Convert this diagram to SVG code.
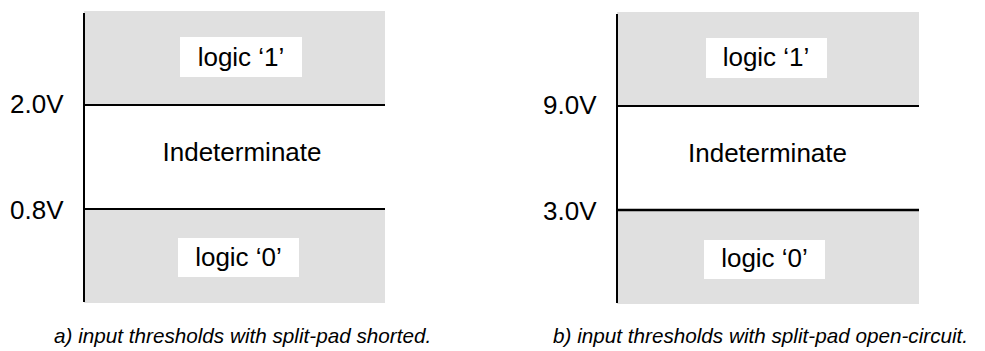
<svg xmlns="http://www.w3.org/2000/svg" width="985" height="351" viewBox="0 0 985 351">
<style>
.zone{fill:#e0e0e0;stroke:none}
.box{fill:#ffffff;stroke:none}
.ln{stroke:#000000;stroke-width:2;fill:none}
.t{font-family:"Liberation Sans",Arial,sans-serif;font-size:26px;fill:#000000}
.m{text-anchor:middle}
.cap{font-family:"Liberation Sans",Arial,sans-serif;font-size:20.7px;font-style:italic;fill:#000000}
</style>
<rect width="985" height="351" fill="#ffffff"/>
<g id="panel-a">
  <g id="a-logic1">
    <rect class="zone" x="84" y="11" width="301" height="94"/>
    <rect class="box" x="180" y="37" width="122" height="40"/>
    <text class="t m" x="241" y="66">logic ‘1’</text>
  </g>
  <g id="a-indeterminate">
    <text class="t m" x="242" y="161">Indeterminate</text>
  </g>
  <g id="a-logic0">
    <rect class="zone" x="84" y="209" width="301" height="94"/>
    <rect class="box" x="178" y="238" width="121" height="39"/>
    <text class="t m" x="238.5" y="266">logic ‘0’</text>
  </g>
  <text class="t" x="10" y="113">2.0V</text>
  <text class="t" x="10" y="219">0.8V</text>
  <text class="cap" x="54" y="343">a) input thresholds with split-pad shorted.</text>
</g>
<g id="panel-b">
  <g id="b-logic1">
    <rect class="zone" x="617" y="12" width="302" height="94"/>
    <rect class="box" x="706" y="38" width="121" height="40"/>
    <text class="t m" x="766" y="66">logic ‘1’</text>
  </g>
  <g id="b-indeterminate">
    <text class="t m" x="767.5" y="162">Indeterminate</text>
  </g>
  <g id="b-logic0">
    <rect class="zone" x="617" y="210" width="302" height="94"/>
    <rect class="box" x="704" y="240" width="121" height="39"/>
    <text class="t m" x="764.5" y="267">logic ‘0’</text>
  </g>
  <text class="t" x="543" y="114">9.0V</text>
  <text class="t" x="543" y="220">3.0V</text>
  <text class="cap" x="553" y="343">b) input thresholds with split-pad open-circuit.</text>
</g>
<g id="connectors">
  <line class="ln" x1="84" y1="13" x2="84" y2="302"/>
  <line class="ln" x1="84" y1="105" x2="385" y2="105"/>
  <line class="ln" x1="84" y1="209" x2="385" y2="209"/>
  <line class="ln" x1="617" y1="14" x2="617" y2="303"/>
  <line class="ln" x1="617" y1="106" x2="919" y2="106"/>
  <line class="ln" x1="617" y1="210" x2="919" y2="210" style="stroke-width:2.5"/>
</g>
</svg>
